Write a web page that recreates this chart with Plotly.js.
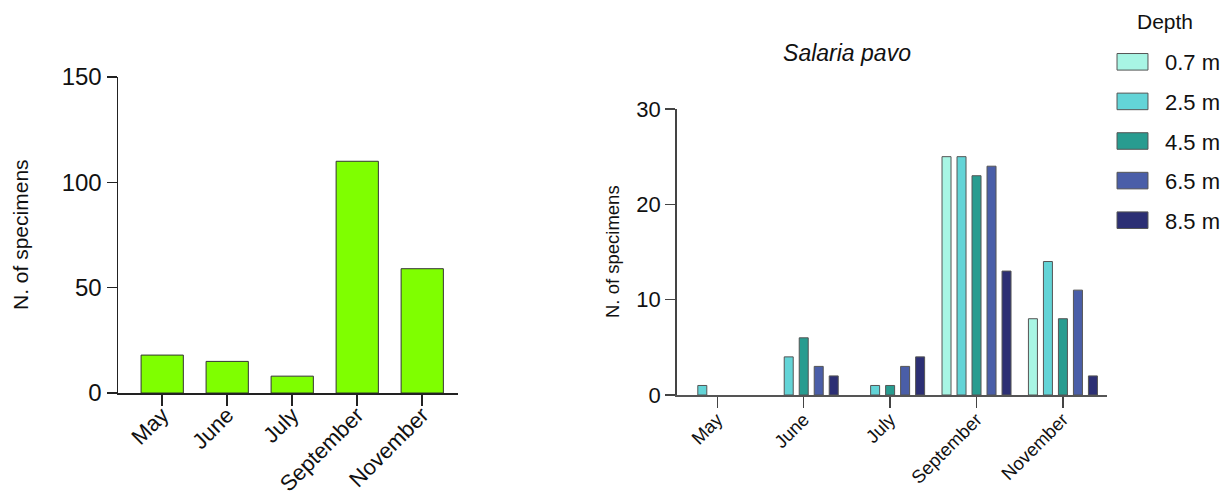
<!DOCTYPE html>
<html>
<head>
<meta charset="utf-8">
<script src="https://cdn.plot.ly/plotly-3.0.1.min.js"></script>
<style>
  html, body { margin: 0; padding: 0; background: #fff; }
  #chart { width: 1232px; height: 493px; }
  #chart .legend .legendpoints path {
    transform: translate(32.5px, 0px) scale(2.58, 1.38);
    vector-effect: non-scaling-stroke;
    stroke: #555555 !important;
    stroke-width: 1px !important;
  }
</style>
</head>
<body>
<div id="chart"></div>
<script>
// ---- Data ----
const months = ["May", "June", "July", "September", "November"];
const totalSpecimens = [18, 15, 8, 110, 59];

const depthLabels = ["0.7 m", "2.5 m", "4.5 m", "6.5 m", "8.5 m"];
const depth07 = [0, 0, 0, 25, 8];
const depth25 = [1, 4, 1, 25, 14];
const depth45 = [0, 6, 1, 23, 8];
const depth65 = [0, 3, 3, 24, 11];
const depth85 = [0, 2, 4, 13, 2];

const leftTicks = [0, 50, 100, 150];
const rightTicks = [0, 10, 20, 30];

// ---- Styles ----
const FONT = "Liberation Sans, Arial, sans-serif";
const depthColors = ["#A8F5E4", "#63D4D7", "#289C90", "#4A5EA8", "#2C2F74"];
const depthSeries = [depth07, depth25, depth45, depth65, depth85];

const W = 1232, H = 493;

const traces = [];
traces.push({
  type: "bar",
  x: months,
  y: totalSpecimens,
  xaxis: "x",
  yaxis: "y",
  width: 0.65,
  marker: { color: "#7FFF00", line: { color: "#333333", width: 1 } },
  showlegend: false,
  hoverinfo: "x+y"
});
depthSeries.forEach((vals, i) => {
  traces.push({
    type: "bar",
    name: depthLabels[i],
    x: months,
    y: vals,
    xaxis: "x2",
    yaxis: "y2",
    marker: {
      color: depthColors[i],
      line: { color: "#555555", width: vals.map(v => (v === 0 ? 0 : 1)) }
    },
    legendgroup: "g" + i
  });
});

const axisCommon = {
  showgrid: false,
  zeroline: false,
  showline: true,
  ticks: "outside",
  fixedrange: true
};

const layout = {
  width: W,
  height: H,
  margin: { l: 0, r: 0, t: 0, b: 0 },
  paper_bgcolor: "#ffffff",
  plot_bgcolor: "#ffffff",
  font: { family: FONT, color: "#111111" },
  barmode: "group",
  bargap: 0.132,
  bargroupgap: 0.4,
  title: {
    text: "<i>Salaria pavo</i>",
    font: { family: FONT, size: 23, color: "#111111" },
    x: 847 / W, xanchor: "center",
    y: 1 - 53 / H, yanchor: "middle",
    xref: "paper", yref: "paper"
  },
  xaxis: Object.assign({}, axisCommon, {
    domain: [118 / W, 458 / W],
    range: [-0.68, 4.55],
    type: "category",
    tickangle: -45,
    ticklen: 11,
    tickwidth: 1.5,
    tickcolor: "#222",
    linecolor: "#222",
    linewidth: 1.5,
    ticklabelstandoff: -12,
    tickfont: { family: FONT, size: 22, color: "#111" },
    anchor: "y"
  }),
  yaxis: Object.assign({}, axisCommon, {
    domain: [(H - 393) / H, (H - 77) / H],
    range: [0, 150],
    tickvals: leftTicks,
    ticklen: 10,
    tickwidth: 1.5,
    tickcolor: "#222",
    linecolor: "#222",
    linewidth: 1.5,
    tickfont: { family: FONT, size: 24, color: "#111" },
    anchor: "x"
  }),
  xaxis2: Object.assign({}, axisCommon, {
    domain: [676.7 / W, 1107 / W],
    range: [-0.47, 4.51],
    type: "category",
    tickangle: -45,
    ticklen: 11,
    tickwidth: 1.5,
    tickcolor: "#444",
    linecolor: "#555",
    linewidth: 1.5,
    ticklabelstandoff: -6,
    tickfont: { family: FONT, size: 18.5, color: "#111" },
    anchor: "y2"
  }),
  yaxis2: Object.assign({}, axisCommon, {
    domain: [(H - 395) / H, (H - 109) / H],
    range: [0, 30],
    tickvals: rightTicks,
    ticklen: 10,
    tickwidth: 1.5,
    tickcolor: "#444",
    linecolor: "#444",
    linewidth: 1.5,
    tickfont: { family: FONT, size: 22, color: "#111" },
    anchor: "x2"
  }),
  annotations: [
    {
      text: "N. of specimens", textangle: -90,
      xref: "paper", yref: "paper",
      x: 20 / W, y: 1 - 235 / H, xanchor: "center", yanchor: "middle",
      showarrow: false,
      font: { family: FONT, size: 21, color: "#111" }
    },
    {
      text: "N. of specimens", textangle: -90,
      xref: "paper", yref: "paper",
      x: 612 / W, y: 1 - 252 / H, xanchor: "center", yanchor: "middle",
      showarrow: false,
      font: { family: FONT, size: 18.5, color: "#111" }
    },
    {
      text: "Depth",
      xref: "paper", yref: "paper",
      x: 1165 / W, y: 1 - 22 / H, xanchor: "center", yanchor: "middle",
      showarrow: false,
      font: { family: FONT, size: 21, color: "#111" }
    }
  ],
  legend: {
    x: 1100 / W, xanchor: "left",
    y: 1 - 41 / H, yanchor: "top",
    itemwidth: 55,
    font: { family: FONT, size: 22, color: "#111" },
    tracegroupgap: 8,
    bgcolor: "rgba(0,0,0,0)",
    traceorder: "grouped"
  },
  showlegend: true
};

Plotly.newPlot("chart", traces, layout, { displayModeBar: false, staticPlot: true });
</script>
</body>
</html>
